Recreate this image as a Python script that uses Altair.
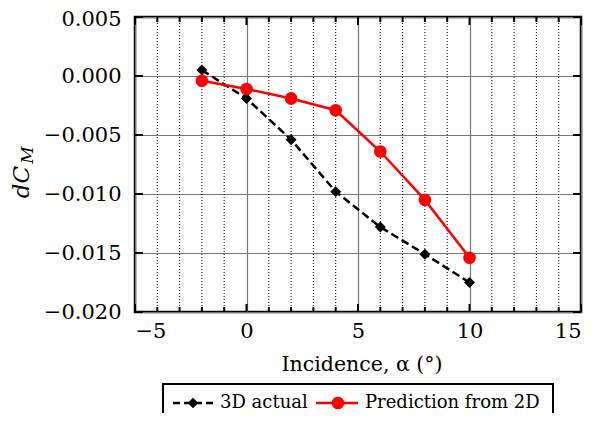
import altair as alt
import pandas as pd

# ---- data ----
alpha = [-2, 0, 2, 4, 6, 8, 10]
dcm_3d = [0.0005, -0.0019, -0.0054, -0.0098, -0.0128, -0.0151, -0.0175]
dcm_2d = [-0.0004, -0.0011, -0.0019, -0.0029, -0.0064, -0.0105, -0.0154]
x_major = [-5, 0, 5, 10, 15]
y_major = [0.005, 0.0, -0.005, -0.010, -0.015, -0.020]
x_minor = [v for v in range(-5, 16) if v % 5 != 0]
series_names = ["3D actual", "Prediction from 2D"]
x_title = "Incidence, α (°)"

FONT = "DejaVu Serif"
W, H = 446, 295
FS = 21

xs = alt.Scale(domain=[-5, 15], nice=False, zero=False)
ys = alt.Scale(domain=[-0.020, 0.005], nice=False, zero=False)

d3 = pd.DataFrame({"a": alpha, "v": dcm_3d})
d2 = pd.DataFrame({"a": alpha, "v": dcm_2d})
dminor = pd.DataFrame({"a": x_minor})
dxmaj = pd.DataFrame({"a": x_major})
dymaj = pd.DataFrame({"v": y_major})

xaxis = alt.Axis(values=x_major, format="d", grid=True, gridColor="#777",
                 gridWidth=1.2, tickSize=0, domain=False, labelFont=FONT,
                 labelFontSize=FS, labelColor="black", labelPadding=8, title=None)
yaxis = alt.Axis(values=y_major, format=".3f", grid=True, gridColor="#777",
                 gridWidth=1.2, tickSize=0, domain=False, labelFont=FONT,
                 labelFontSize=FS, labelColor="black", labelPadding=14, title=None,
                 labelOffset={"condition": {"test": "datum.value > 0.004", "value": 2}, "value": 0})

X = alt.X("a:Q", scale=xs, axis=xaxis, title=None)
Y = alt.Y("v:Q", scale=ys, axis=yaxis, title=None)

minor_grid = alt.Chart(dminor).mark_rule(color="black", strokeWidth=1, strokeDash=[1, 2]).encode(x=X)

def vtick(df, y0, y1):
    return alt.Chart(df).mark_rule(color="black", strokeWidth=2).encode(
        x=X, y=alt.value(y0), y2=alt.value(y1))

def htick(x0, x1):
    return alt.Chart(dymaj).mark_rule(color="black", strokeWidth=2).encode(
        y=Y, x=alt.value(x0), x2=alt.value(x1))

ticks = [vtick(dminor, H, H - 5), vtick(dminor, 0, 5),
         vtick(dxmaj, H, H - 8), vtick(dxmaj, 0, 8),
         htick(0, 8), htick(W, W - 8)]

line3d = alt.Chart(d3).mark_line(color="black", strokeWidth=2.5, strokeDash=[8, 4]).encode(x=X, y=Y)
pts3d = alt.Chart(d3).mark_point(shape="diamond", filled=True, color="black", size=120, opacity=1).encode(x=X, y=Y)
line2d = alt.Chart(d2).mark_line(color="#ff0000", strokeWidth=2.5).encode(x=X, y=Y)
pts2d = alt.Chart(d2).mark_point(shape="circle", filled=True, color="#ff0000", size=160, opacity=1).encode(x=X, y=Y)

one = pd.DataFrame({"k": [0]})

# axis titles
xtitle = alt.Chart(pd.DataFrame({"t": [x_title]})).mark_text(
    font=FONT, fontSize=20.5, align="center", baseline="alphabetic", color="black").encode(
    text="t:N", x=alt.value(227), y=alt.value(354))
ytitle_main = alt.Chart(pd.DataFrame({"t": ["dC"]})).mark_text(
    font=FONT, fontSize=23, fontStyle="italic", angle=270, align="center",
    baseline="alphabetic", color="black").encode(
    text="t:N", x=alt.value(-106), y=alt.value(165))
ytitle_sub = alt.Chart(pd.DataFrame({"t": ["M"]})).mark_text(
    font=FONT, fontSize=17, fontStyle="italic", angle=270, align="center",
    baseline="alphabetic", color="black").encode(
    text="t:N", x=alt.value(-102), y=alt.value(138))

# legend
LY = 386
leg_box = alt.Chart(one).mark_rect(
    fill="white", stroke="black", strokeWidth=2).encode(
    x=alt.value(28), x2=alt.value(418), y=alt.value(367), y2=alt.value(420))
leg_l1 = alt.Chart(one).mark_rule(
    color="black", strokeWidth=2.5, strokeDash=[7, 4]).encode(
    x=alt.value(38), x2=alt.value(78), y=alt.value(LY))
leg_p1 = alt.Chart(one).mark_point(
    shape="diamond", filled=True, color="black", size=110, opacity=1).encode(
    x=alt.value(58), y=alt.value(LY))
leg_t1 = alt.Chart(pd.DataFrame({"t": [series_names[0]]})).mark_text(
    font=FONT, fontSize=18, align="left", baseline="middle", color="black").encode(
    text="t:N", x=alt.value(85), y=alt.value(LY))
leg_l2 = alt.Chart(one).mark_rule(
    color="#ff0000", strokeWidth=2.5).encode(
    x=alt.value(181), x2=alt.value(223), y=alt.value(LY))
leg_p2 = alt.Chart(one).mark_point(
    shape="circle", filled=True, color="#ff0000", size=160, opacity=1).encode(
    x=alt.value(203), y=alt.value(LY))
leg_t2 = alt.Chart(pd.DataFrame({"t": [series_names[1]]})).mark_text(
    font=FONT, fontSize=18, align="left", baseline="middle", color="black").encode(
    text="t:N", x=alt.value(230), y=alt.value(LY))

chart = alt.layer(
    minor_grid, *ticks,
    line3d, line2d, pts3d, pts2d,
    xtitle, ytitle_main, ytitle_sub,
    leg_box, leg_l1, leg_p1, leg_t1, leg_l2, leg_p2, leg_t2,
).properties(
    width=W, height=H,
    autosize=alt.AutoSizeParams(type="none"),
    padding={"left": 127, "top": 9, "right": 6, "bottom": 101},
    background="white",
).configure_view(stroke="black", strokeWidth=2.5)

chart.save("out.html", embed_options={"renderer": "svg", "actions": False})
